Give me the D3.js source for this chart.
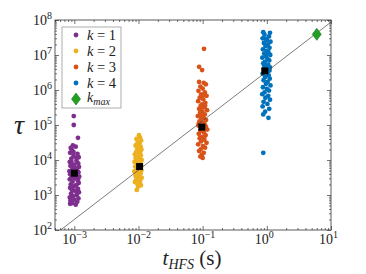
<!DOCTYPE html>
<html>
<head>
<meta charset="utf-8">
<script src="https://cdn.jsdelivr.net/npm/d3@7"></script>
<style>
  body { margin: 0; background: #fff; }
</style>
</head>
<body>
<div id="graph_draw"></div>
<script>
// data: [t_HFS (s), tau]
var k1Points = [[0.98e-3,1.8e5],[0.98e-3,1.0e5],[1.14e-3,4.3e4],[0.95e-3,2.6e4],[0.88e-3,2.2e4],[1.05e-3,2.4e4],[0.92e-3,1.9e4],[0.86e-3,1.6e4],[1.12e-3,1.5e4],[0.97e-3,1.3e4],[1.17e-3,1.2e4],[0.90e-3,1.1e4],[1.08e-3,9.5e3],[0.85e-3,8.8e3],[1.15e-3,8.0e3],[0.99e-3,7.4e3],[0.87e-3,6.8e3],[1.18e-3,6.3e3],[1.04e-3,5.9e3],[0.93e-3,5.4e3],[1.10e-3,5.0e3],[0.84e-3,4.8e3],[1.16e-3,4.5e3],[0.96e-3,4.2e3],[0.86e-3,3.9e3],[1.06e-3,3.7e3],[1.19e-3,3.4e3],[0.91e-3,3.2e3],[1.01e-3,3.0e3],[0.85e-3,2.8e3],[1.13e-3,2.6e3],[0.94e-3,2.4e3],[1.17e-3,2.2e3],[0.88e-3,2.0e3],[1.07e-3,1.9e3],[0.98e-3,1.75e3],[0.86e-3,1.6e3],[1.14e-3,1.5e3],[0.92e-3,1.4e3],[1.03e-3,1.3e3],[1.18e-3,1.2e3],[0.89e-3,1.1e3],[1.09e-3,1.0e3],[0.95e-3,920],[0.85e-3,850],[1.16e-3,800],[1.00e-3,740],[0.87e-3,690],[1.11e-3,640],[0.93e-3,590],[0.86e-3,560],[1.05e-3,530],[0.99e-3,6.1e3],[1.02e-3,3.5e3],[0.90e-3,9.0e3],[1.15e-3,2.9e3],[0.97e-3,1.7e4],[1.08e-3,1.15e4]];

var k2Points = [[1.02e-2,5.1e4],[1.06e-2,4.3e4],[0.93e-2,4.0e4],[1.10e-2,3.6e4],[0.97e-2,3.2e4],[1.04e-2,2.9e4],[0.90e-2,2.6e4],[1.08e-2,2.4e4],[0.95e-2,2.2e4],[1.11e-2,2.0e4],[0.99e-2,1.85e4],[0.92e-2,1.7e4],[1.05e-2,1.55e4],[0.88e-2,1.45e4],[1.09e-2,1.35e4],[0.96e-2,1.25e4],[1.03e-2,1.15e4],[0.91e-2,1.08e4],[1.12e-2,1.0e4],[0.98e-2,9.4e3],[0.87e-2,8.8e3],[1.07e-2,8.3e3],[0.94e-2,7.8e3],[1.01e-2,7.3e3],[1.10e-2,6.9e3],[0.89e-2,6.5e3],[0.97e-2,6.1e3],[1.05e-2,5.7e3],[0.93e-2,5.3e3],[1.11e-2,5.0e3],[0.86e-2,4.7e3],[1.00e-2,4.4e3],[1.08e-2,4.1e3],[0.95e-2,3.8e3],[0.90e-2,3.5e3],[1.04e-2,3.3e3],[1.12e-2,3.1e3],[0.98e-2,2.9e3],[0.92e-2,2.7e3],[1.06e-2,2.5e3],[0.88e-2,2.35e3],[1.01e-2,2.2e3],[0.96e-2,2.05e3],[1.09e-2,1.9e3],[0.99e-2,1.75e3],[0.94e-2,1.4e3],[1.03e-2,6.7e3],[0.91e-2,1.2e4],[1.07e-2,1.8e4],[0.99e-2,3.0e4]];

var k3Points = [[0.105,1.5e7],[0.088,4.6e6],[0.098,3.7e6],[0.088,1.7e6],[0.104,1.6e6],[0.112,1.45e6],[0.092,1.25e6],[0.100,1.1e6],[0.086,9.5e5],[0.108,8.5e5],[0.095,7.5e5],[0.115,6.8e5],[0.090,6.0e5],[0.102,5.4e5],[0.085,4.8e5],[0.110,4.3e5],[0.097,3.9e5],[0.093,3.5e5],[0.106,3.2e5],[0.088,2.9e5],[0.117,2.65e5],[0.099,2.4e5],[0.091,2.2e5],[0.108,2.0e5],[0.084,1.8e5],[0.103,1.65e5],[0.095,1.5e5],[0.113,1.38e5],[0.089,1.26e5],[0.100,1.15e5],[0.107,1.05e5],[0.086,9.6e4],[0.096,8.0e4],[0.118,7.4e4],[0.092,6.8e4],[0.104,6.2e4],[0.087,5.6e4],[0.111,5.1e4],[0.098,4.6e4],[0.090,4.2e4],[0.106,3.8e4],[0.094,3.4e4],[0.115,3.1e4],[0.085,2.8e4],[0.101,2.5e4],[0.109,2.25e4],[0.093,2.0e4],[0.088,1.8e4],[0.104,1.6e4],[0.097,1.4e4],[0.092,1.25e4],[0.100,1.15e4],[0.112,9.0e4],[0.094,2.7e5],[0.101,7.0e5],[0.087,1.1e5],[0.109,3.6e5],[0.096,1.9e5],[0.105,4.4e4]];

var k4Points = [[0.88,4.5e7],[1.12,4.3e7],[0.92,3.8e7],[1.08,3.4e7],[0.86,3.0e7],[1.00,2.7e7],[1.14,2.4e7],[0.90,2.2e7],[1.04,2.0e7],[0.95,1.8e7],[1.10,1.6e7],[0.87,1.45e7],[0.99,1.3e7],[1.06,1.2e7],[0.91,1.1e7],[1.13,1.0e7],[0.96,9.2e6],[0.85,8.4e6],[1.02,7.7e6],[1.09,7.0e6],[0.93,6.4e6],[0.88,5.8e6],[1.05,5.3e6],[0.98,4.8e6],[1.12,4.4e6],[0.90,4.0e6],[1.01,3.2e6],[0.86,2.9e6],[1.07,2.6e6],[0.94,2.35e6],[1.11,2.1e6],[0.89,1.9e6],[1.03,1.7e6],[0.97,1.5e6],[1.14,1.35e6],[0.87,1.2e6],[1.00,1.08e6],[1.08,9.6e5],[0.92,8.6e5],[0.85,7.6e5],[1.05,6.8e5],[0.95,6.0e5],[1.12,5.3e5],[0.89,4.6e5],[1.02,4.0e5],[0.86,3.4e5],[1.09,2.9e5],[0.94,2.4e5],[0.88,2.0e5],[1.06,1.6e5],[0.88,1.6e4],[0.99,1.9e7],[1.03,1.1e7],[0.91,5.0e6],[1.10,3.6e6],[0.96,2.9e7]];

// black squares (typical value of each k)
var medianT = [1e-3, 1.04e-2, 0.097, 0.93];
var medianTau = [4.2e3, 6.5e3, 8.7e4, 3.5e6];

// k_max diamond
var kmaxPoint = [6.0, 3.9e7];

// fitted power law tau = fitA * t^fitB
var fitA = 3.4e6, fitB = 1.41;

var seriesNames = ["1", "2", "3", "4"];
var seriesColors = ["#7e2f8e", "#edb120", "#d95319", "#0072bd"];
var xTicks = [1e-3, 1e-2, 1e-1, 1e0, 1e1];
var xTickExp = ["\u22123", "\u22122", "\u22121", "0", "1"];
var yTicks = [1e2, 1e3, 1e4, 1e5, 1e6, 1e7, 1e8];
var yTickExp = ["2", "3", "4", "5", "6", "7", "8"];

// set the dimensions and margins of the graph
var margin = {top: 20, right: 35, bottom: 44, left: 55},
    width = 366 - margin.left - margin.right,
    height = 274 - margin.top - margin.bottom;

var x = d3.scaleLog().domain([5e-4, 10]).range([0, width]);
var y = d3.scaleLog().domain([1e2, 1e8]).range([height, 0]);

var svg = d3.select("#graph_draw").append("svg")
    .attr("width", 366)
    .attr("height", 274)
    .attr("font-family", "'Liberation Serif', 'DejaVu Serif', serif")
    .append("g")
    .attr("transform", "translate(" + margin.left + "," + margin.top + ")");

svg.append("defs").append("clipPath").attr("id", "clip")
    .append("rect").attr("width", width).attr("height", height);

// minor ticks
var xMinor = [], yMinor = [];
for (var e = -4; e <= 0; e++) for (var m = 2; m <= 9; m++) {
    var v = m * Math.pow(10, e);
    if (v >= 5e-4 && v <= 10) xMinor.push(v);
}
for (var e2 = 2; e2 < 8; e2++) for (var m2 = 2; m2 <= 9; m2++) yMinor.push(m2 * Math.pow(10, e2));

var axisColor = "#333";
function styleAxis(g) {
    g.select(".domain").remove();
    g.selectAll("line").attr("stroke", axisColor).attr("stroke-width", 0.7);
    g.selectAll("text").remove();
}

// inward ticks on all four sides
svg.append("g").attr("transform", "translate(0," + height + ")")
    .call(d3.axisBottom(x).tickValues(xTicks).tickSize(-4)).call(styleAxis);
svg.append("g").attr("transform", "translate(0," + height + ")")
    .call(d3.axisBottom(x).tickValues(xMinor).tickSize(-2)).call(styleAxis);
svg.append("g")
    .call(d3.axisTop(x).tickValues(xTicks).tickSize(-4)).call(styleAxis);
svg.append("g")
    .call(d3.axisTop(x).tickValues(xMinor).tickSize(-2)).call(styleAxis);
svg.append("g")
    .call(d3.axisLeft(y).tickValues(yTicks).tickSize(-4)).call(styleAxis);
svg.append("g")
    .call(d3.axisLeft(y).tickValues(yMinor).tickSize(-2)).call(styleAxis);
svg.append("g").attr("transform", "translate(" + width + ",0)")
    .call(d3.axisRight(y).tickValues(yTicks).tickSize(-4)).call(styleAxis);
svg.append("g").attr("transform", "translate(" + width + ",0)")
    .call(d3.axisRight(y).tickValues(yMinor).tickSize(-2)).call(styleAxis);

// box
svg.append("rect").attr("width", width).attr("height", height)
    .attr("fill", "none").attr("stroke", axisColor).attr("stroke-width", 0.8);

// tick labels  10^n
var xl = svg.append("g").selectAll("text").data(xTicks).enter().append("text")
    .attr("x", function(d) { return x(d) - 12; })
    .attr("y", height + 14)
    .attr("font-size", 14).attr("fill", "#222");
xl.append("tspan").text("10");
xl.append("tspan").attr("dy", -6).attr("font-size", 10)
    .text(function(d, i) { return xTickExp[i]; });

var yl = svg.append("g").selectAll("text").data(yTicks).enter().append("text")
    .attr("x", -22)
    .attr("y", function(d) { return y(d) + 5; })
    .attr("font-size", 14).attr("fill", "#222");
yl.append("tspan").text("10");
yl.append("tspan").attr("dy", -6).attr("font-size", 10)
    .text(function(d, i) { return yTickExp[i]; });

// scatter clouds
var plot = svg.append("g").attr("clip-path", "url(#clip)");
[k1Points, k2Points, k3Points, k4Points].forEach(function(pts, i) {
    plot.append("g").selectAll("circle").data(pts).enter().append("circle")
        .attr("cx", function(d) { return x(d[0]); })
        .attr("cy", function(d) { return y(d[1]); })
        .attr("r", 2.4)
        .attr("fill", seriesColors[i]);
});

// fit line
var lineX = x.domain();
var valueline = d3.line()
    .x(function(d) { return x(d); })
    .y(function(d) { return y(fitA * Math.pow(d, fitB)); });
plot.append("path").datum(lineX)
    .attr("d", valueline)
    .attr("fill", "none").attr("stroke", "#444").attr("stroke-width", 0.7);

// black squares
plot.append("g").selectAll("rect").data(medianT).enter().append("rect")
    .attr("x", function(d) { return x(d) - 3.5; })
    .attr("y", function(d, i) { return y(medianTau[i]) - 3.5; })
    .attr("width", 7).attr("height", 7)
    .attr("fill", "#000");

// k_max diamond
function diamond(cx, cy, w, h) {
    return "M" + cx + "," + (cy - h) + "L" + (cx + w) + "," + cy + "L" + cx + "," + (cy + h) + "L" + (cx - w) + "," + cy + "Z";
}
plot.append("path")
    .attr("d", diamond(x(kmaxPoint[0]), y(kmaxPoint[1]), 4.5, 6))
    .attr("fill", "#22a022").attr("stroke", "#137a13").attr("stroke-width", 0.6);

// legend
var lg = svg.append("g").attr("transform", "translate(7,7)");
lg.append("rect").attr("width", 59).attr("height", 81)
    .attr("fill", "#fff").attr("stroke", "#999").attr("stroke-width", 0.8);
seriesNames.forEach(function(name, i) {
    var cy = 8 + i * 16;
    lg.append("circle").attr("cx", 14).attr("cy", cy).attr("r", 2.4).attr("fill", seriesColors[i]);
    var t = lg.append("text").attr("x", 25).attr("y", cy + 4.5).attr("font-size", 14.5).attr("fill", "#222");
    t.append("tspan").attr("font-style", "italic").text("k");
    t.append("tspan").text(" = " + name);
});
lg.append("path").attr("d", diamond(14, 72, 4.5, 6))
    .attr("fill", "#22a022").attr("stroke", "#137a13").attr("stroke-width", 0.6);
var km = lg.append("text").attr("x", 25).attr("y", 75).attr("font-size", 14).attr("fill", "#222")
    .attr("font-style", "italic");
km.append("tspan").text("k");
km.append("tspan").attr("dy", 3).attr("font-size", 10).text("max");

// axis labels
svg.append("text")
    .attr("x", -36).attr("y", height / 2 + 9)
    .attr("text-anchor", "middle")
    .attr("font-size", 28).attr("font-style", "italic").attr("fill", "#222")
    .text("\u03c4");

var xlab = svg.append("text")
    .attr("x", width / 2 - 1).attr("y", height + 35)
    .attr("text-anchor", "middle")
    .attr("font-size", 21).attr("fill", "#222");
xlab.append("tspan").attr("font-style", "italic").text("t");
xlab.append("tspan").attr("font-style", "italic").attr("font-size", 14).attr("dy", 4).text("HFS");
xlab.append("tspan").attr("dy", -4).text(" (s)");
</script>
</body>
</html>
